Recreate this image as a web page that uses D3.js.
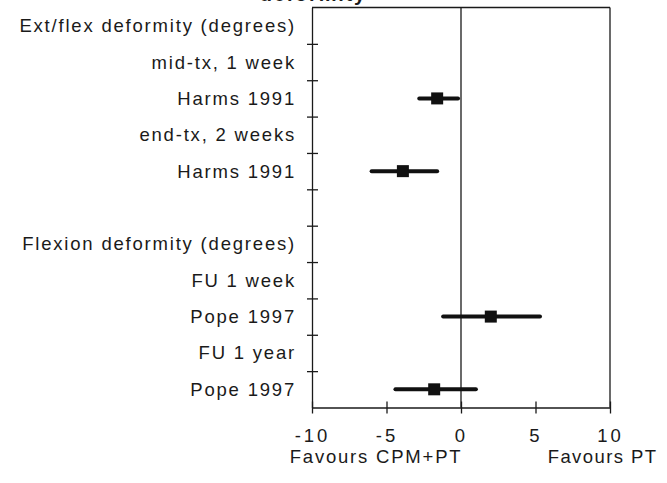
<!DOCTYPE html>
<html>
<head>
<meta charset="utf-8">
<script src="https://cdn.jsdelivr.net/npm/d3@7"></script>
<style>
	body { margin: 0; background: #fff; }
	svg { display: block; }
	text { font-family: "Liberation Sans", Arial, sans-serif; fill: #1a1a1a; }
</style>
</head>
<body>
<svg id="chart" width="667" height="483"></svg>
<script>
// row labels, top to bottom (empty row = spacer)
const rows = ['Ext/flex deformity (degrees)', 'mid-tx, 1 week', 'Harms 1991', 'end-tx, 2 weeks', 'Harms 1991', '',
	'Flexion deformity (degrees)', 'FU 1 week', 'Pope 1997', 'FU 1 year', 'Pope 1997'];

// study estimates (mean difference, 95% CI)
const studyRow = [2, 4, 8, 10];
const mean = [-1.6, -3.9, 2.0, -1.8];
const lower = [-2.8, -6.0, -1.2, -4.4];
const upper = [-0.2, -1.6, 5.3, 1.0];

const xTicks = [-10, -5, 0, 5, 10];
const xLabels = ['Favours CPM+PT', 'Favours PT'];

const L = 312, R = 610, T = 7.5, B = 407.5;

function chart() {
	let svg = d3.select('#chart');
	let x = d3.scaleLinear().domain([-10, 10]).range([L, R]);
	let y = d3.scaleLinear().domain([0, rows.length]).range([T, B]);

	// cut-off title at the very top
	svg.append('text')
		.attr('x', 367).attr('y', 1)
		.attr('text-anchor', 'end')
		.style('font-size', '20px').style('font-weight', 'bold')
		.style('letter-spacing', '1.8px')
		.text('deformity');

	// frame: top + right border, zero line
	svg.append('line').attr('x1', L).attr('x2', R).attr('y1', T).attr('y2', T)
		.attr('stroke', '#1a1a1a').attr('stroke-width', 1.3);
	svg.append('line').attr('x1', R).attr('x2', R).attr('y1', T).attr('y2', B)
		.attr('stroke', '#1a1a1a').attr('stroke-width', 1.3);
	svg.append('line').attr('x1', x(0)).attr('x2', x(0)).attr('y1', T).attr('y2', B)
		.attr('stroke', '#1a1a1a').attr('stroke-width', 1.3);

	// left axis, ticks between rows
	let yAxis = d3.axisLeft(y).tickValues(d3.range(1, rows.length)).tickFormat('').tickSizeOuter(0);
	let gy = svg.append('g').attr('transform', `translate(${L},0)`).call(yAxis);
	gy.select('.domain').attr('stroke', '#1a1a1a').attr('stroke-width', 1.3);
	gy.selectAll('.tick line').attr('x1', -5).attr('x2', 6).attr('stroke', '#1a1a1a').attr('stroke-width', 1.3);

	// bottom axis
	let xAxis = d3.axisBottom(x).tickValues(xTicks).tickFormat(d => String(d)).tickSizeOuter(0);
	let gx = svg.append('g').attr('transform', `translate(0,${B})`).call(xAxis);
	gx.select('.domain').attr('stroke', '#1a1a1a').attr('stroke-width', 1.3);
	gx.selectAll('.tick line').attr('y1', -6).attr('y2', 6).attr('stroke', '#1a1a1a').attr('stroke-width', 1.3);
	gx.selectAll('.tick text')
		.attr('y', 34).attr('dy', null)
		.attr('fill', '#1a1a1a')
		.style('font-size', '18.5px').style('font-family', '"Liberation Sans", Arial, sans-serif')
		.style('letter-spacing', '3px');

	// row labels
	svg.append('g').selectAll('text')
		.data(rows)
		.enter().append('text')
			.attr('x', 296)
			.attr('y', (d, i) => y(i + 0.5))
			.attr('dy', '0.35em')
			.attr('text-anchor', 'end')
			.style('font-size', '18.5px')
			.style('letter-spacing', '1.8px')
			.text(d => d);

	// favours labels
	svg.append('text').attr('x', x(-5.7)).attr('y', 463).attr('text-anchor', 'middle')
		.style('font-size', '18.5px').style('letter-spacing', '1.8px').text(xLabels[0]);
	svg.append('text').attr('x', x(9.5)).attr('y', 463).attr('text-anchor', 'middle')
		.style('font-size', '18.5px').style('letter-spacing', '1.4px').text(xLabels[1]);

	// CI lines
	svg.append('g').selectAll('line')
		.data(studyRow)
		.enter().append('line')
			.attr('x1', (d, i) => x(lower[i]))
			.attr('x2', (d, i) => x(upper[i]))
			.attr('y1', d => y(d + 0.5))
			.attr('y2', d => y(d + 0.5))
			.attr('stroke', '#111')
			.attr('stroke-width', 4)
			.attr('stroke-linecap', 'round');

	// point estimates
	svg.append('g').selectAll('rect')
		.data(studyRow)
		.enter().append('rect')
			.attr('x', (d, i) => x(mean[i]) - 6)
			.attr('y', d => y(d + 0.5) - 6)
			.attr('width', 12)
			.attr('height', 12)
			.attr('fill', '#111');
}

chart();
</script>
</body>
</html>
